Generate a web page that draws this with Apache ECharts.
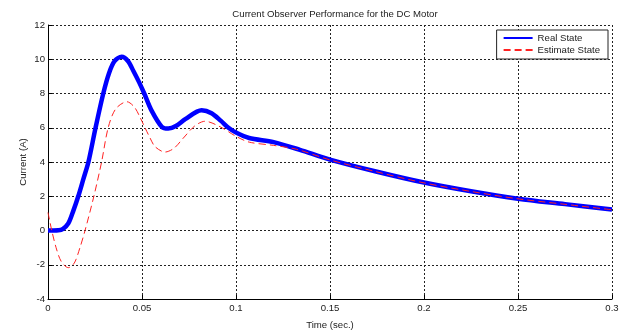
<!DOCTYPE html>
<html><head><meta charset="utf-8">
<script src="https://cdn.jsdelivr.net/npm/echarts@6/dist/echarts.min.js"></script>
<style>html,body{margin:0;padding:0;background:#fff}#c{width:623px;height:335px}</style>
</head><body><div id="c"></div>
<script>
var realT = [0, 0.003, 0.0055, 0.008, 0.0108, 0.0135, 0.0161, 0.0188, 0.0215, 0.0253, 0.0294, 0.0325, 0.0355, 0.0392, 0.0425, 0.0455, 0.0485, 0.0512, 0.0551, 0.0605, 0.064, 0.068, 0.073, 0.0817, 0.087, 0.092, 0.096, 0.1, 0.107, 0.12, 0.134, 0.15, 0.175, 0.2, 0.225, 0.25, 0.275, 0.3];
var realY = [0, 0, 0.01, 0.1, 0.41, 1.16, 2.0, 3.0, 4.0, 6.0, 8.0, 9.2, 9.9, 10.15, 9.9, 9.3, 8.65, 8.0, 7.0, 6.06, 5.95, 6.1, 6.5, 7.02, 6.85, 6.4, 6.0, 5.72, 5.4, 5.16, 4.71, 4.14, 3.43, 2.8, 2.29, 1.86, 1.54, 1.22];
var estT = [0, 0.002, 0.0043, 0.007, 0.0108, 0.014, 0.017, 0.0197, 0.0244, 0.0285, 0.032, 0.036, 0.042, 0.046, 0.049, 0.0516, 0.0543, 0.0569, 0.0622, 0.067, 0.072, 0.078, 0.0835, 0.0915, 0.1, 0.107, 0.12, 0.132, 0.15, 0.175, 0.2, 0.225, 0.25, 0.275, 0.3];
var estY = [1.05, 0.0, -1.0, -1.8, -2.17, -1.9, -1.0, 0.0, 2.0, 4.0, 6.0, 7.1, 7.52, 7.2, 6.6, 6.0, 5.4, 4.9, 4.58, 4.8, 5.4, 6.1, 6.38, 6.06, 5.5, 5.16, 4.97, 4.75, 4.12, 3.42, 2.78, 2.28, 1.85, 1.53, 1.21];
var xTicks = [0, 0.05, 0.1, 0.15, 0.2, 0.25, 0.3];
var yTicks = [-4, -2, 0, 2, 4, 6, 8, 10, 12];
var titleText = 'Current Observer Performance for the DC Motor';
var seriesNames = ['Real State', 'Estimate State'];

function pairs(a, b) { return a.map(function (t, i) { return [t, b[i]]; }); }

var font = 'Liberation Sans, Arial, sans-serif';
var fs = 9.6;
var gridLine = { show: true, lineStyle: { color: '#222', type: [2, 2], width: 1 } };
var chart = echarts.init(document.getElementById('c'), null, { renderer: 'canvas' });
chart.setOption({
  animation: false,
  backgroundColor: '#fff',
  title: { text: titleText, left: 330, textAlign: 'center', top: 4,
    textStyle: { fontFamily: font, fontSize: fs, fontWeight: 'normal', color: '#222' } },
  grid: { left: 48, right: 11, top: 25, bottom: 27, containLabel: false },
  legend: {
    orient: 'vertical', right: 15, top: 30, padding: [3, 8, 4, 6],
    backgroundColor: '#fff', borderColor: '#222', borderWidth: 1,
    itemWidth: 29, itemHeight: 12, itemGap: 2,
    itemStyle: { opacity: 0 },
    textStyle: { fontFamily: font, fontSize: fs, color: '#222' },
    data: seriesNames
  },
  xAxis: {
    type: 'value', min: xTicks[0], max: xTicks[xTicks.length - 1], interval: 0.05,
    name: 'Time (sec.)', nameLocation: 'middle', nameGap: 21,
    nameTextStyle: { fontFamily: font, fontSize: fs, color: '#222' },
    axisLine: { show: true, onZero: false, lineStyle: { color: '#000', width: 1 } },
    axisTick: { show: true, inside: true, length: 4, lineStyle: { color: '#000' } },
    axisLabel: { fontFamily: font, fontSize: fs, color: '#222', margin: 4,
      formatter: function (v) { return String(+v.toFixed(2)); } },
    splitLine: gridLine
  },
  yAxis: {
    type: 'value', min: yTicks[0], max: yTicks[yTicks.length - 1], interval: 2,
    name: 'Current (A)', nameLocation: 'middle', nameGap: 20, nameMoveOverlap: false,
    nameTextStyle: { fontFamily: font, fontSize: fs, color: '#222' },
    axisLine: { show: true, onZero: false, lineStyle: { color: '#000', width: 1 } },
    axisTick: { show: true, inside: true, length: 4, lineStyle: { color: '#000' } },
    axisLabel: { fontFamily: font, fontSize: fs, color: '#222', margin: 3 },
    splitLine: gridLine
  },
  series: [
    { name: seriesNames[0], type: 'line', data: pairs(realT, realY), symbol: 'none',
      smooth: 0.3, z: 2,
      lineStyle: { color: '#0000ff', width: 4.5 }, itemStyle: { color: '#0000ff' } },
    { name: seriesNames[1], type: 'line', data: pairs(estT, estY), symbol: 'none',
      smooth: 0.3, z: 3,
      lineStyle: { color: '#ff2222', width: 1, type: [7, 4] }, itemStyle: { color: '#ff2222' } }
  ]
});
</script></body></html>
